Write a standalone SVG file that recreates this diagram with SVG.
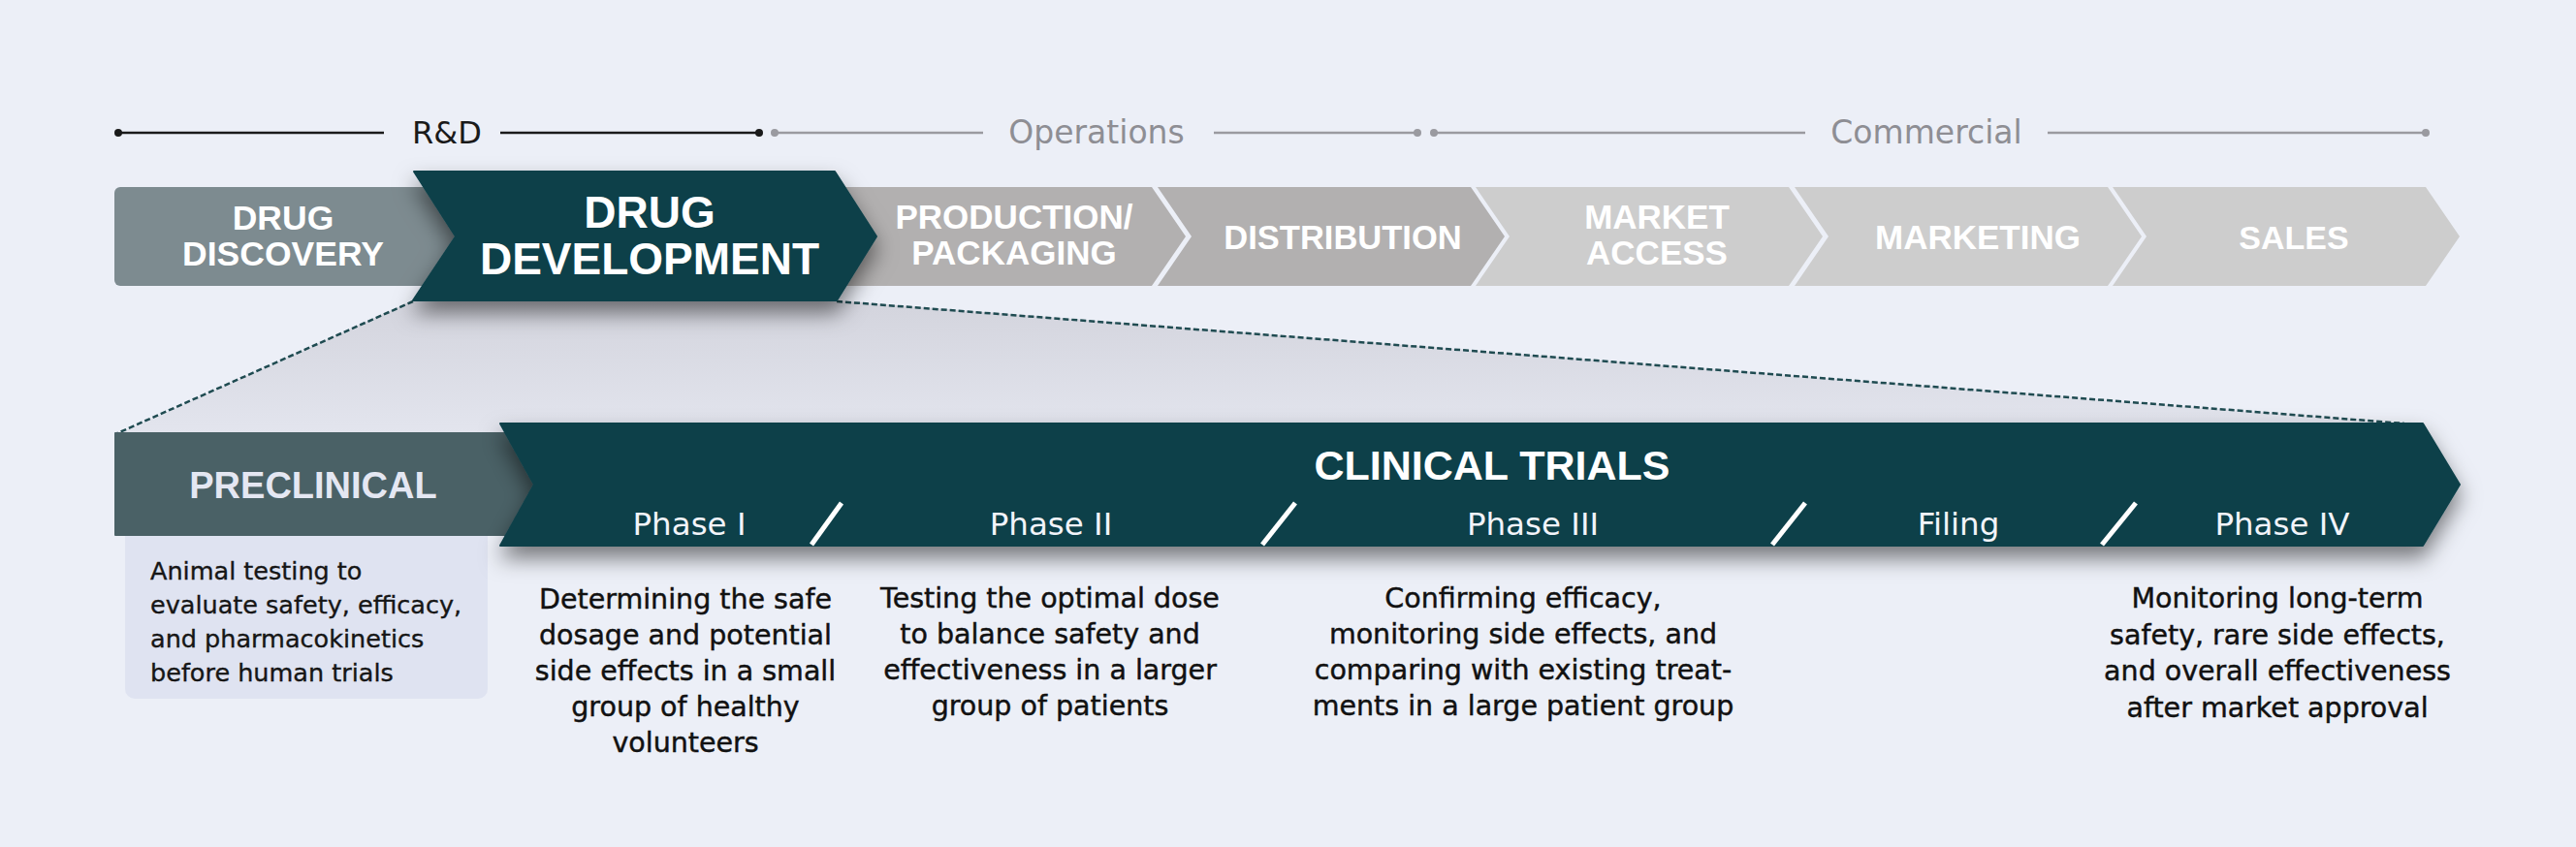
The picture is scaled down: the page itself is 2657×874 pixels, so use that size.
<svg xmlns="http://www.w3.org/2000/svg" width="2657" height="874" viewBox="0 0 2657 874">
<style>
.hd{font-family:"Liberation Sans",Arial,sans-serif;font-weight:bold;fill:#ffffff;text-anchor:middle}
.lb{font-family:"DejaVu Sans",sans-serif;text-anchor:middle}
.ph{font-family:"DejaVu Sans",sans-serif;font-size:32.5px;fill:#f2f4fa;text-anchor:middle}
.ds{font-family:"DejaVu Sans",sans-serif;font-size:28.5px;fill:#111111;stroke:#111111;stroke-width:0.45px;text-anchor:middle}
.pc{font-family:"DejaVu Sans",sans-serif;font-size:25.5px;fill:#161616;stroke:#161616;stroke-width:0.35px}
.g1{fill:#b2b0b0}
.g2{fill:#cdcdcd}
.tl{stroke-width:2.5;fill:none}
.sl{stroke:#ffffff;stroke-width:5;fill:none}
.dash{stroke:#1f4b51;stroke-width:2.5;stroke-dasharray:6 3;fill:none}
</style>
<defs>
<filter id="sh" x="-10%" y="-40%" width="120%" height="200%">
<feDropShadow dx="0" dy="12" stdDeviation="11" flood-color="#000" flood-opacity="0.5"/>
</filter>
<linearGradient id="zoomg" gradientUnits="userSpaceOnUse" x1="0" y1="310" x2="0" y2="449">
<stop offset="0" stop-color="#d3d4dd"/>
<stop offset="1" stop-color="#e3e5ee"/>
</linearGradient>
</defs>
<rect width="2657" height="874" fill="#eceff7"/>

<g id="zoom-area">
<polygon points="426,310 863,310 2480,437 119,449" fill="url(#zoomg)"/>
</g>

<g id="connectors">
<line class="dash" x1="426" y1="311" x2="119" y2="448"/>
<line class="dash" x1="863" y1="311" x2="2480" y2="437"/>
</g>

<g id="timeline">
<g id="rd" stroke="#1a1a1a" fill="#1a1a1a">
<line class="tl" x1="122" y1="137" x2="396" y2="137"/>
<line class="tl" x1="516" y1="137" x2="783" y2="137"/>
<circle cx="122" cy="137" r="4" stroke="none"/>
<circle cx="783" cy="137" r="4" stroke="none"/>
<text class="lb" x="461" y="148" font-size="32" fill="#1a1a1a" stroke="none">R&amp;D</text>
</g>
<g id="ops" stroke="#9a9aa0" fill="#9a9aa0">
<line class="tl" x1="799" y1="137" x2="1014" y2="137"/>
<line class="tl" x1="1252" y1="137" x2="1462" y2="137"/>
<circle cx="799" cy="137" r="4" stroke="none"/>
<circle cx="1462" cy="137" r="4" stroke="none"/>
<text class="lb" x="1131" y="148" font-size="33" fill="#8e8e94" stroke="none">Operations</text>
</g>
<g id="com" stroke="#9a9aa0" fill="#9a9aa0">
<line class="tl" x1="1479" y1="137" x2="1862" y2="137"/>
<line class="tl" x1="2112" y1="137" x2="2502" y2="137"/>
<circle cx="1479" cy="137" r="4" stroke="none"/>
<circle cx="2502" cy="137" r="4" stroke="none"/>
<text class="lb" x="1987" y="148" font-size="33" fill="#8e8e94" stroke="none">Commercial</text>
</g>
</g>

<g id="sales">
<polygon class="g2" points="2179,193 2502,193 2537,244 2502,295 2179,295 2214,244"/>
<text class="hd" x="2366" y="257" font-size="34">SALES</text>
</g>
<g id="marketing">
<polygon class="g2" points="1851,193 2174,193 2209,244 2174,295 1851,295 1886,244"/>
<text class="hd" x="2040" y="257" font-size="35">MARKETING</text>
</g>
<g id="market-access">
<polygon class="g2" points="1522,193 1845,193 1880,244 1845,295 1522,295 1557,244"/>
<text class="hd" x="1709" y="236" font-size="35">MARKET</text>
<text class="hd" x="1709" y="273" font-size="35">ACCESS</text>
</g>
<g id="distribution">
<polygon class="g1" points="1194,193 1517,193 1552,244 1517,295 1194,295 1229,244"/>
<text class="hd" x="1385" y="257" font-size="34.5">DISTRIBUTION</text>
</g>
<g id="production">
<polygon class="g1" points="865,193 1188,193 1223,244 1188,295 865,295 900,244"/>
<text class="hd" x="1046" y="236" font-size="35">PRODUCTION/</text>
<text class="hd" x="1046" y="273" font-size="35">PACKAGING</text>
</g>
<g id="drug-discovery">
<rect x="118" y="193" width="360" height="102" rx="6" fill="#7d8b90"/>
<text class="hd" x="292" y="237" font-size="35.5">DRUG</text>
<text class="hd" x="292" y="274" font-size="35.5">DISCOVERY</text>
</g>
<g id="drug-development">
<polygon points="427,177 861,177 904,244 863,310 426,310 470,244" fill="#11414a" stroke="#11414a" stroke-width="2" stroke-linejoin="round" filter="url(#sh)"/>
<text class="hd" x="670" y="235" font-size="46">DRUG</text>
<text class="hd" x="670" y="283" font-size="46">DEVELOPMENT</text>
</g>

<g id="preclinical">
<rect x="129" y="520" width="374" height="201" rx="10" fill="#dfe3f1"/>
<polygon points="119,447 522,447 551,499.5 522,552 119,552" fill="#4a6166" stroke="#4a6166" stroke-width="2" stroke-linejoin="round"/>
<text class="hd" x="323" y="514" font-size="38" style="fill:#e4e7f2">PRECLINICAL</text>
<text class="pc" x="155" y="598">Animal testing to</text>
<text class="pc" x="155" y="633">evaluate safety, efficacy,</text>
<text class="pc" x="155" y="668">and pharmacokinetics</text>
<text class="pc" x="155" y="703">before human trials</text>
</g>

<g id="clinical-trials">
<polygon points="516,437 2499,437 2537,500 2499,563 516,563 551,500" fill="#11414a" stroke="#11414a" stroke-width="2" stroke-linejoin="round" filter="url(#sh)"/>
<text class="hd" x="1539" y="495" font-size="43">CLINICAL TRIALS</text>
<line class="sl" x1="837" y1="562" x2="868" y2="519"/>
<line class="sl" x1="1302" y1="562" x2="1336" y2="519"/>
<line class="sl" x1="1828" y1="562" x2="1862" y2="519"/>
<line class="sl" x1="2168" y1="562" x2="2203" y2="519"/>
</g>

<g id="phase-1">
<text class="ph" x="711" y="552">Phase I</text>
<text class="ds" x="707" y="628">Determining the safe</text>
<text class="ds" x="707" y="665">dosage and potential</text>
<text class="ds" x="707" y="702">side effects in a small</text>
<text class="ds" x="707" y="739">group of healthy</text>
<text class="ds" x="707" y="776">volunteers</text>
</g>
<g id="phase-2">
<text class="ph" x="1084" y="552">Phase II</text>
<text class="ds" x="1083" y="627">Testing the optimal dose</text>
<text class="ds" x="1083" y="664">to balance safety and</text>
<text class="ds" x="1083" y="701">effectiveness in a larger</text>
<text class="ds" x="1083" y="738">group of patients</text>
</g>
<g id="phase-3">
<text class="ph" x="1581" y="552">Phase III</text>
<text class="ds" x="1571" y="627">Confirming efficacy,</text>
<text class="ds" x="1571" y="664">monitoring side effects, and</text>
<text class="ds" x="1571" y="701">comparing with existing treat-</text>
<text class="ds" x="1571" y="738">ments in a large patient group</text>
</g>
<g id="filing">
<text class="ph" x="2020" y="552">Filing</text>
</g>
<g id="phase-4">
<text class="ph" x="2354" y="552">Phase IV</text>
<text class="ds" x="2349" y="627">Monitoring long-term</text>
<text class="ds" x="2349" y="665">safety, rare side effects,</text>
<text class="ds" x="2349" y="702">and overall effectiveness</text>
<text class="ds" x="2349" y="740">after market approval</text>
</g>
</svg>
